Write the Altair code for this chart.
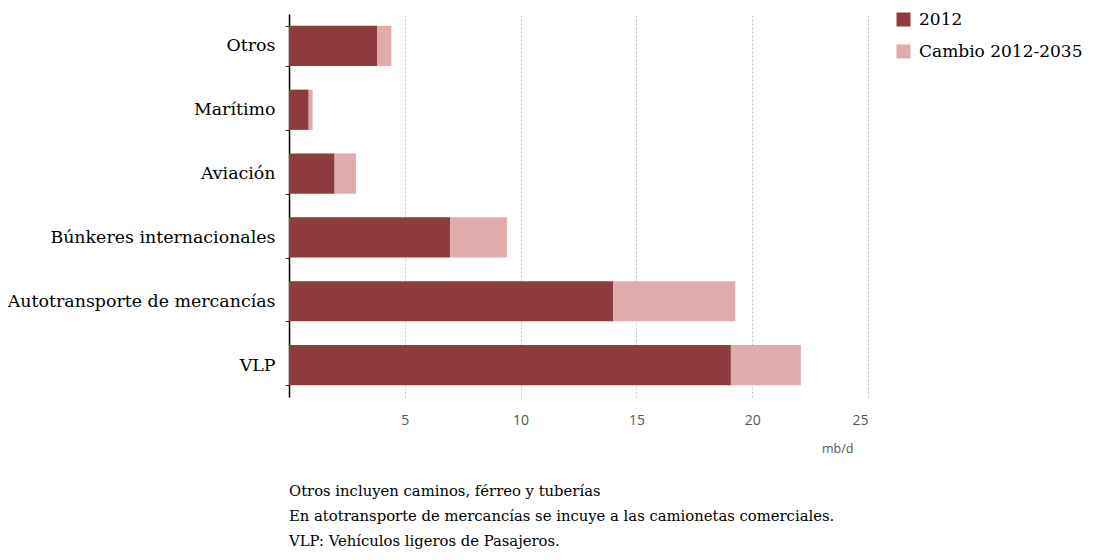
import altair as alt
import pandas as pd

categories = ["Otros", "Marítimo", "Aviación", "Búnkeres internacionales",
              "Autotransporte de mercancías", "VLP"]
base_2012 = [3.8, 0.85, 1.97, 6.96, 14.0, 19.08]
change_2012_2035 = [0.62, 0.17, 0.92, 2.45, 5.27, 3.02]
series = ["2012", "Cambio 2012-2035"]
colors = ["#8e3a3f", "#e2abab"]
x_ticks = [5, 10, 15, 20, 25]
notes = [
    "Otros incluyen caminos, férreo y tuberías",
    "En atotransporte de mercancías se incuye a las camionetas comerciales.",
    "VLP: Vehículos ligeros de Pasajeros.",
]

rows = []
for c, a, b in zip(categories, base_2012, change_2012_2035):
    rows.append({"cat": c, "serie": series[0], "val": a, "ord": 0})
    rows.append({"cat": c, "serie": series[1], "val": b, "ord": 1})
df = pd.DataFrame(rows)

SERIF = "DejaVu Serif"
SANS = "Open Sans"

chart = alt.Chart(df).mark_bar().encode(
    y=alt.Y("cat:N", sort=categories,
            scale=alt.Scale(paddingInner=0.37, paddingOuter=0.185),
            axis=alt.Axis(title=None, labelFont=SERIF, labelFontSize=17.4,
                          labelColor="#000", labelPadding=10, labelLimit=400,
                          domainColor="#000", domainWidth=1.5,
                          tickColor="#333", tickSize=4, tickBand="extent",
                          grid=False)),
    x=alt.X("val:Q", stack="zero",
            scale=alt.Scale(domain=[0, 25], nice=False),
            axis=alt.Axis(values=x_ticks, title="mb/d", titleFont=SANS,
                          titleFontSize=12.5, titleFontWeight="normal",
                          titleColor="#555", titleX=564, titleY=51,
                          titleAlign="right", titleBaseline="middle",
                          labelFont=SANS, labelFontSize=14, labelColor="#555",
                          labelPadding=16, ticks=False, domain=False,
                          grid=True, gridColor="#c4c4c4", gridDash=[2, 2],
                          gridWidth=1)),
    color=alt.Color("serie:N", scale=alt.Scale(domain=series, range=colors),
                    legend=alt.Legend(title=None, orient="none", legendX=606,
                                      legendY=-3, symbolType="square",
                                      symbolSize=196, symbolStrokeWidth=0,
                                      labelFont=SERIF, labelFontSize=17,
                                      labelColor="#000", rowPadding=14,
                                      labelOffset=7, labelLimit=300)),
    order=alt.Order("ord:Q"),
).properties(
    width=579, height=383,
    title=alt.TitleParams(text=notes, orient="bottom", anchor="start",
                          frame="group",
                          font=SERIF, fontSize=14.8, fontWeight="normal",
                          color="#000", lineHeight=25, offset=29),
    autosize=alt.AutoSizeParams(type="none"),
    padding={"left": 281, "top": 6, "right": 220, "bottom": 155},
).configure_view(stroke=None)

chart.save("out.html", embed_options={"renderer": "svg", "actions": False})
